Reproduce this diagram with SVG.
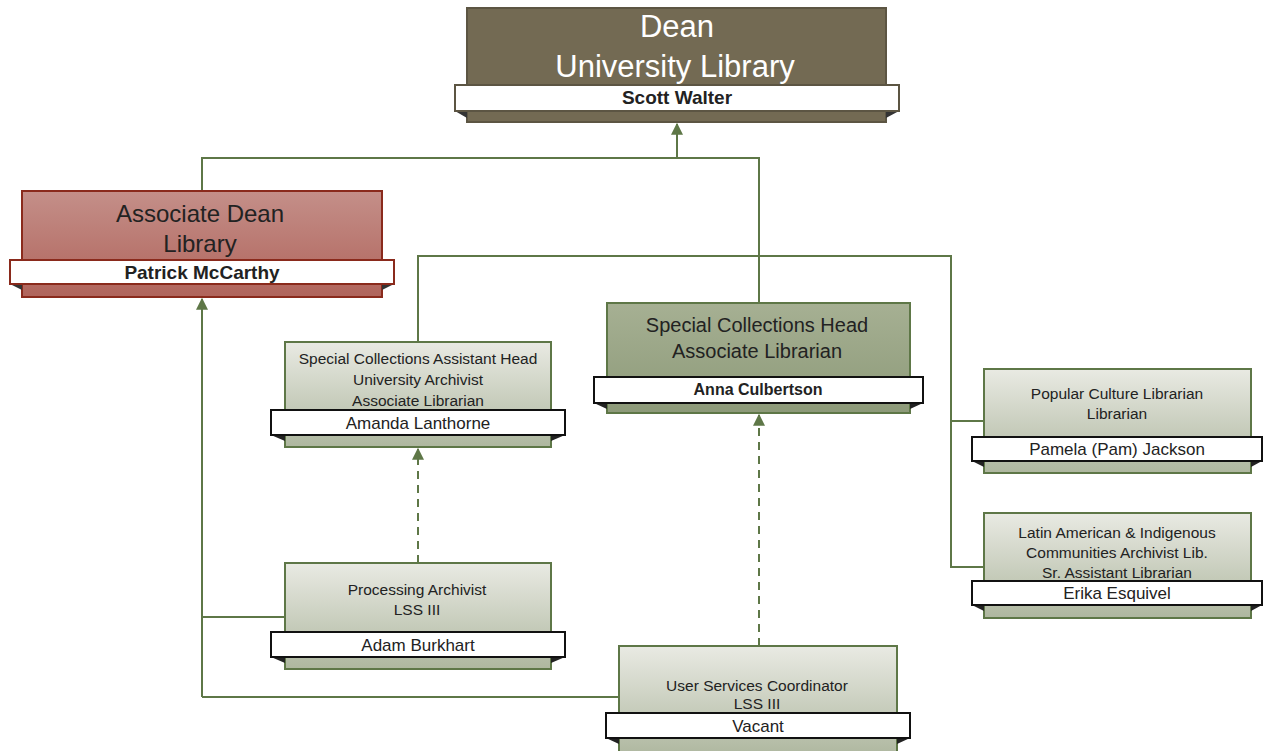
<svg xmlns="http://www.w3.org/2000/svg" width="1263" height="751" viewBox="0 0 1263 751">
<defs>
<linearGradient id="gGreen" x1="0" y1="0" x2="0" y2="1"><stop offset="0" stop-color="#e9eae3"/><stop offset="1" stop-color="#aeb79f"/></linearGradient>
<linearGradient id="gHead" x1="0" y1="0" x2="0" y2="1"><stop offset="0" stop-color="#a6b093"/><stop offset="1" stop-color="#8d9a79"/></linearGradient>
<linearGradient id="gRed" x1="0" y1="0" x2="0" y2="1"><stop offset="0" stop-color="#c48f89"/><stop offset="1" stop-color="#b0645b"/></linearGradient>
<marker id="arr" viewBox="0 0 10 10" refX="9" refY="5" markerWidth="12" markerHeight="12" markerUnits="userSpaceOnUse" orient="auto"><path d="M0,0 L10,5 L0,10 z" fill="#5e7747"/></marker>
</defs>
<style>
.conn{fill:none;stroke:#5e7747;stroke-width:2}
.dash{stroke-dasharray:8,6}
.gbox{fill:url(#gGreen);stroke:#5e7747;stroke-width:2}
.band{fill:#fff;stroke:#111;stroke-width:2}
.t{font-family:"Liberation Sans",Arial,sans-serif;text-anchor:middle;fill:#222}
.s{font-size:15.5px}
.n{font-size:17px}
</style>
<rect width="1263" height="751" fill="#fff"/>
<g id="connectors">
<path class="conn" d="M202,191 V158 H759 V303"/>
<path class="conn" d="M677,158 V124" marker-end="url(#arr)"/>
<path class="conn" d="M418,342 V256 H951 V567 H984 M951,421 H984"/>
<path class="conn dash" d="M418,563 V449" marker-end="url(#arr)"/>
<path class="conn dash" d="M759,646 V415" marker-end="url(#arr)"/>
<path class="conn" d="M202,697 V299" marker-end="url(#arr)"/>
<path class="conn" d="M202,697 H619 M202,617 H285"/>
</g>
<g id="dean">
<rect x="467" y="8" width="419" height="114" fill="#736a53" stroke="#5c5543" stroke-width="2"/>
<path d="M455,111 L467,118 V111 Z M899,111 L886,118 V111 Z" fill="#333"/>
<rect x="455" y="85" width="444" height="26" fill="#fff" stroke="#5c5543" stroke-width="2"/>
<text class="t" x="677" y="37" font-size="31" style="fill:#fff">Dean</text>
<text class="t" x="675" y="77" font-size="31" style="fill:#fff">University Library</text>
<text class="t" x="677" y="104" font-size="19" font-weight="bold">Scott Walter</text>
</g>
<g id="assocdean">
<rect x="22" y="191" width="360" height="106" fill="url(#gRed)" stroke="#8a2a1c" stroke-width="2"/>
<path d="M10,284 L22,290 V284 Z M394,284 L382,290 V284 Z" fill="#333"/>
<rect x="10" y="260" width="384" height="24" fill="#fff" stroke="#8a2a1c" stroke-width="2"/>
<text class="t" x="200" y="222" font-size="24">Associate Dean</text>
<text class="t" x="200" y="252" font-size="24">Library</text>
<text class="t" x="202" y="279" font-size="19" font-weight="bold">Patrick McCarthy</text>
</g>
<g id="asthead">
<rect class="gbox" x="285" y="342" width="266" height="105"/>
<path d="M271,435 L285,441 V435 Z M565,435 L551,441 V435 Z" fill="#222"/>
<rect class="band" x="271" y="410" width="294" height="25"/>
<text class="t s" x="418" y="364">Special Collections Assistant Head</text>
<text class="t s" x="418" y="385">University Archivist</text>
<text class="t s" x="418" y="406">Associate Librarian</text>
<text class="t n" x="418" y="429">Amanda Lanthorne</text>
</g>
<g id="schead">
<rect x="607" y="303" width="303" height="110" fill="url(#gHead)" stroke="#5e7747" stroke-width="2"/>
<path d="M594,403 L607,409 V403 Z M923,403 L910,409 V403 Z" fill="#222"/>
<rect class="band" x="594" y="377" width="329" height="26"/>
<text class="t" x="757" y="332" font-size="20">Special Collections Head</text>
<text class="t" x="757" y="358" font-size="20">Associate Librarian</text>
<text class="t n" x="758" y="395" font-weight="bold" style="font-size:16px">Anna Culbertson</text>
</g>
<g id="popculture">
<rect class="gbox" x="984" y="369" width="267" height="104"/>
<path d="M972,461 L984,467 V461 Z M1262,461 L1251,467 V461 Z" fill="#222"/>
<rect class="band" x="972" y="437" width="290" height="24"/>
<text class="t s" x="1117" y="399">Popular Culture Librarian</text>
<text class="t s" x="1117" y="419">Librarian</text>
<text class="t n" x="1117" y="455">Pamela (Pam) Jackson</text>
</g>
<g id="latinamerican">
<rect class="gbox" x="984" y="513" width="267" height="105"/>
<path d="M972,605 L984,611 V605 Z M1262,605 L1251,611 V605 Z" fill="#222"/>
<rect class="band" x="972" y="581" width="290" height="24"/>
<text class="t s" x="1117" y="538">Latin American &amp; Indigenous</text>
<text class="t s" x="1117" y="558">Communities Archivist Lib.</text>
<text class="t s" x="1117" y="578">Sr. Assistant Librarian</text>
<text class="t n" x="1117" y="599">Erika Esquivel</text>
</g>
<g id="processing">
<rect class="gbox" x="285" y="563" width="266" height="106"/>
<path d="M271,657 L285,663 V657 Z M565,657 L551,663 V657 Z" fill="#222"/>
<rect class="band" x="271" y="632" width="294" height="25"/>
<text class="t s" x="417" y="595">Processing Archivist</text>
<text class="t s" x="417" y="615">LSS III</text>
<text class="t n" x="418" y="651">Adam Burkhart</text>
</g>
<g id="userservices">
<rect class="gbox" x="619" y="646" width="278" height="110"/>
<path d="M606,738 L619,744 V738 Z M910,738 L897,744 V738 Z" fill="#222"/>
<rect class="band" x="606" y="713" width="304" height="25"/>
<text class="t s" x="757" y="691">User Services Coordinator</text>
<text class="t s" x="757" y="709">LSS III</text>
<text class="t n" x="758" y="732">Vacant</text>
</g>
</svg>
